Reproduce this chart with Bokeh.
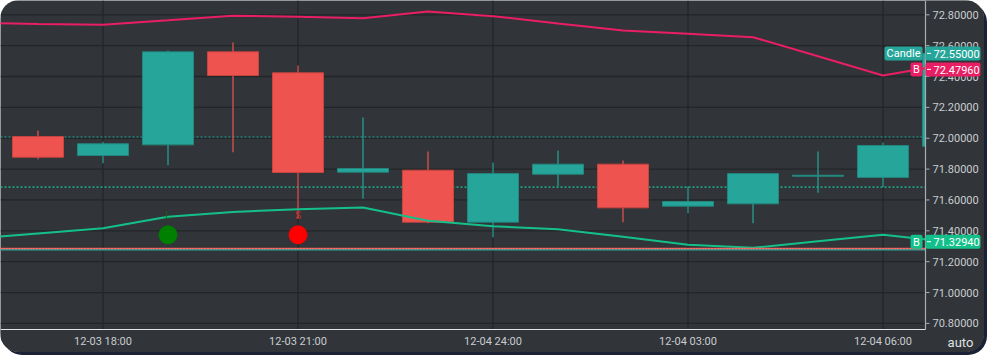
from bokeh.plotting import figure
from bokeh.models import Range1d, ColumnDataSource
from bokeh.embed import file_html
from bokeh.resources import INLINE
from bokeh.core.properties import value

# ---------------- data ----------------
times = ["12-03 17:00", "12-03 18:00", "12-03 19:00", "12-03 20:00", "12-03 21:00",
         "12-03 22:00", "12-03 23:00", "12-04 24:00", "12-04 01:00", "12-04 02:00",
         "12-04 03:00", "12-04 04:00", "12-04 05:00", "12-04 06:00", "12-04 07:00"]
opens  = [72.011, 71.888, 71.957, 72.560, 72.424, 71.780, 71.793, 71.456, 71.767, 71.832,
          71.560, 71.575, 71.754, 71.746, 71.948]
highs  = [72.050, 71.977, 72.569, 72.620, 72.471, 72.134, 71.914, 71.843, 71.921, 71.856,
          71.687, 71.775, 71.914, 71.972, 72.550]
lows   = [71.864, 71.838, 71.825, 71.910, 71.480, 71.608, 71.449, 71.359, 71.687, 71.456,
          71.514, 71.449, 71.646, 71.683, 71.948]
closes = [71.877, 71.964, 72.560, 72.407, 71.778, 71.804, 71.456, 71.771, 71.832, 71.549,
          71.590, 71.771, 71.760, 71.953, 72.550]

band_times = ["12-03 16:00"] + times
band_upper = [72.749, 72.740, 72.735, 72.764, 72.794, 72.787, 72.778, 72.821, 72.791, 72.744,
              72.698, 72.677, 72.655, 72.531, 72.407, 72.4796]
band_lower = [71.349, 71.383, 71.417, 71.491, 71.522, 71.540, 71.551, 71.465, 71.430, 71.410,
              71.361, 71.309, 71.290, 71.332, 71.374, 71.3294]

level_upper = 72.008
level_lower = 71.683
stop_red = 71.285
stop_teal = 71.277

signal_times = ["12-03 19:00", "12-03 21:00"]
signal_types = ["L", "S"]
signal_prices = [71.374, 71.374]
signal_text_prices = [71.499, 71.499]

x_tick_labels = ["12-03 18:00", "12-03 21:00", "12-04 24:00", "12-04 03:00", "12-04 06:00"]
y_ticks = [70.8, 71.0, 71.2, 71.4, 71.6, 71.8, 72.0, 72.2, 72.4, 72.6, 72.8]

tag_names = ["Candle", "B", "B"]
tag_values = [72.55, 72.4796, 71.3294]

# ---------------- styles / layout ----------------
W, H = 984, 352
BG = "#313539"
GRID = "#232629"
UP = "#26a69a"
DOWN = "#ef5350"
UP_EDGE = "#22877e"
DOWN_EDGE = "#c9443f"
PINK = "#e91e63"
GREEN = "#14c08a"
AXIS_TXT = "#c9ccd0"
FONT = "Roboto"
tag_colors = [UP, PINK, GREEN]

STEP = 65.0          # px per candle
X0 = 37.5            # px of first candle centre
PX_PER_UNIT = 154.3  # px per price unit
Y_REF_PX, Y_REF = 14.3, 72.80
AXIS_X_PX = 925.0
AXIS_Y_PX = 329.0

def dx(px):
    return (px - X0) / STEP

def dy(py):
    return Y_REF - (py - Y_REF_PX) / PX_PER_UNIT

def py_of(price):
    return Y_REF_PX + (Y_REF - price) * PX_PER_UNIT

idx = {t: i for i, t in enumerate(times)}
xs = list(range(len(times)))
bx = [i - 1 for i in range(len(band_times))]
tick_idx = [idx[t] for t in x_tick_labels]

x_left, x_axis, x_right = dx(0), dx(AXIS_X_PX), dx(W)
y_top, y_axis, y_bottom = dy(0), dy(AXIS_Y_PX), dy(H)

p = figure(width=W, height=H, output_backend="svg", toolbar_location=None,
           x_range=Range1d(x_left, x_right), y_range=Range1d(y_bottom, y_top),
           x_axis_location=None, y_axis_location=None,
           min_border=0, min_border_left=0, min_border_right=0,
           min_border_top=0, min_border_bottom=0)
p.background_fill_color = BG
p.border_fill_color = BG
p.outline_line_color = None
p.grid.visible = False
p.styles = {"border-radius": "19px", "overflow": "hidden", "box-shadow": "3px 3px 0px #1b2236"}

# grid
p.segment(x0=[x_left] * len(y_ticks), y0=y_ticks, x1=[x_axis] * len(y_ticks), y1=y_ticks,
          line_color=GRID, line_width=1.3)
p.segment(x0=tick_idx, y0=[y_axis] * len(tick_idx), x1=tick_idx, y1=[y_top] * len(tick_idx),
          line_color=GRID, line_width=1.3)

# level lines
p.segment(x0=[x_left], y0=[level_upper], x1=[x_axis], y1=[level_upper],
          line_color=UP, line_width=1.2, line_dash="2 2")
p.segment(x0=[x_left], y0=[level_lower], x1=[x_axis], y1=[level_lower],
          line_color="#1fa07e", line_width=1.6, line_dash="2 2")

# candles
colors = [UP if c >= o else DOWN for o, c in zip(opens, closes)]
edges = [UP_EDGE if c >= o else DOWN_EDGE for o, c in zip(opens, closes)]
src = ColumnDataSource(dict(x=xs, h=highs, l=lows,
                            top=[max(o, c) for o, c in zip(opens, closes)],
                            bottom=[min(o, c) for o, c in zip(opens, closes)],
                            color=colors, edge=edges))
p.segment(x0="x", y0="h", x1="x", y1="l", line_color="color", line_width=1.2, source=src)
p.vbar(x="x", top="top", bottom="bottom", width=0.785, fill_color="color",
       line_color="edge", line_width=1, source=src)

# bands
p.line(bx, band_upper, line_color=PINK, line_width=2)
p.line(bx, band_lower, line_color=GREEN, line_width=2)

# stop lines
p.segment(x0=[x_left], y0=[stop_teal], x1=[x_axis], y1=[stop_teal], line_color=UP, line_width=1.5)
p.segment(x0=[x_left], y0=[stop_red], x1=[x_axis], y1=[stop_red], line_color=DOWN, line_width=1.6)
p.segment(x0=[x_left], y0=[stop_red], x1=[x_axis], y1=[stop_red], line_color="#f59090",
          line_width=1, line_dash="1 2")

# signals
sx = [idx[t] for t in signal_times]
p.scatter(sx, signal_prices, size=18, color=["#008000", "#ff0000"])
p.text(sx, signal_text_prices, text=signal_types, text_color=["#0a6a0a", "#c62828"],
       text_font=value(FONT), text_font_size="10px", text_align="center", text_baseline="middle")

# cover outside the plotting area (axis panels)
p.quad(left=[x_axis, x_left], right=[x_right, x_right], top=[y_top, y_axis],
       bottom=[y_bottom, y_bottom], fill_color=BG, line_color=None)

# axes
p.segment(x0=[x_axis], y0=[y_axis], x1=[x_axis], y1=[y_top], line_color="#a9adb1", line_width=1.2)
p.segment(x0=[x_left], y0=[y_axis], x1=[x_axis], y1=[y_axis], line_color="#e2e4e6", line_width=1.2)
p.segment(x0=[x_axis] * len(y_ticks), y0=y_ticks, x1=[dx(AXIS_X_PX + 4)] * len(y_ticks), y1=y_ticks,
          line_color="#a9adb1", line_width=1)
p.text([dx(AXIS_X_PX + 7)] * len(y_ticks), y_ticks, text=["%.5f" % v for v in y_ticks],
       text_color=AXIS_TXT, text_font=value(FONT), text_font_size="11px",
       text_align="left", text_baseline="middle")
p.text(tick_idx, [dy(AXIS_Y_PX + 11.5)] * len(tick_idx), text=x_tick_labels,
       text_color=AXIS_TXT, text_font=value(FONT), text_font_size="11px",
       text_align="center", text_baseline="middle")
p.text([dx(960)], [dy(AXIS_Y_PX + 12.5)], text=["auto"], text_color="#dfe1e3",
       text_font=value(FONT), text_font_size="13px", text_align="center", text_baseline="middle")

# right-side value tags (stacked so they do not overlap)
TAG_H = 14.0
name_left = {"Candle": 884.0, "B": 910.0}
placed = []
for name, val, col in zip(tag_names, tag_values, tag_colors):
    cy = py_of(val)
    for other in placed:
        if abs(cy - other) < TAG_H + 2:
            cy = other + TAG_H + 2
    placed.append(cy)
    top, bot = dy(cy - TAG_H / 2), dy(cy + TAG_H / 2)
    p.quad(left=[dx(name_left[name])], right=[dx(AXIS_X_PX - 3)], top=[top], bottom=[bot],
           fill_color=col, line_color=None, border_radius=2)
    p.quad(left=[x_axis], right=[dx(980)], top=[top], bottom=[bot],
           fill_color=col, line_color=None, border_radius=2)
    p.segment(x0=[dx(AXIS_X_PX + 1.5)], y0=[dy(cy)], x1=[dx(AXIS_X_PX + 5.5)], y1=[dy(cy)],
              line_color="white", line_width=1)
    p.text([(dx(name_left[name]) + dx(AXIS_X_PX - 3)) / 2], [dy(cy + 0.5)], text=[name],
           text_color="white", text_font=value(FONT), text_font_size="11px",
           text_align="center", text_baseline="middle")
    p.text([dx(AXIS_X_PX + 8)], [dy(cy + 0.5)], text=["%.5f" % val],
           text_color="white", text_font=value(FONT), text_font_size="11px",
           text_align="left", text_baseline="middle")

open("out.html", "w").write(file_html(p, INLINE))
